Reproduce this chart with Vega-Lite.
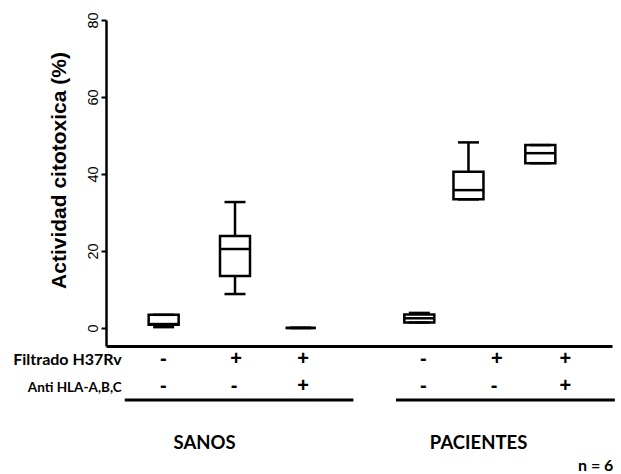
{
  "$schema": "https://vega.github.io/schema/vega-lite/v6.json",
  "width": 506,
  "height": 326,
  "autosize": {"type": "none"},
  "padding": {"left": 106, "top": 20, "right": 9, "bottom": 128},
  "background": "white",
  "config": {"view": {"stroke": null}, "axis": {"grid": false}},
  "datasets": {
    "boxes": [
      {"grupo": "SANOS", "filtrado": "-", "anti": "-", "pos": 0.743, "min": 0.2, "q1": 0.8, "median": 1.0, "q3": 3.4, "max": 3.4},
      {"grupo": "SANOS", "filtrado": "+", "anti": "-", "pos": 1.75, "min": 8.8, "q1": 13.5, "median": 20.5, "q3": 23.9, "max": 32.7},
      {"grupo": "SANOS", "filtrado": "+", "anti": "+", "pos": 2.677, "min": 0, "q1": 0, "median": 0, "q3": 0, "max": 0},
      {"grupo": "PACIENTES", "filtrado": "-", "anti": "-", "pos": 4.351, "min": 1.4, "q1": 1.4, "median": 2.5, "q3": 3.5, "max": 3.9},
      {"grupo": "PACIENTES", "filtrado": "+", "anti": "-", "pos": 5.045, "min": 33.4, "q1": 33.4, "median": 35.8, "q3": 40.6, "max": 48.2},
      {"grupo": "PACIENTES", "filtrado": "+", "anti": "+", "pos": 6.059, "min": 42.8, "q1": 42.8, "median": 45.4, "q3": 47.5, "max": 47.5}
    ],
    "filtradoRow": [
      {"pos": 0.74, "sign": "-"}, {"pos": 1.764, "sign": "+"}, {"pos": 2.711, "sign": "+"},
      {"pos": 4.409, "sign": "-"}, {"pos": 5.444, "sign": "+"}, {"pos": 6.412, "sign": "+"}
    ],
    "antiRow": [
      {"pos": 0.74, "sign": "-"}, {"pos": 1.736, "sign": "-"}, {"pos": 2.711, "sign": "+"},
      {"pos": 4.409, "sign": "-"}, {"pos": 5.405, "sign": "-"}, {"pos": 6.412, "sign": "+"}
    ],
    "groups": [
      {"grupo": "SANOS", "from": 0.194, "to": 3.421, "center": 1.32},
      {"grupo": "PACIENTES", "from": 4.022, "to": 7.111, "center": 5.188}
    ]
  },
  "layer": [
    {
      "data": {"name": "boxes"},
      "mark": {"type": "rule", "color": "black", "strokeWidth": 2.5},
      "encoding": {
        "x": {"field": "pos", "type": "quantitative",
          "scale": {"domain": [0, 7], "nice": false, "zero": false},
          "axis": {"title": null, "labels": false, "ticks": false, "domainWidth": 3, "domainColor": "black"}},
        "y": {"field": "q3", "type": "quantitative",
          "scale": {"domain": [-4.7, 80], "nice": false, "zero": false},
          "axis": {"title": "Actividad citotoxica (%)", "values": [0, 20, 40, 60, 80],
            "titleFont": "Liberation Sans", "titleFontSize": 21, "titleFontWeight": "bold", "titleColor": "black",
            "titleX": -37, "titleY": 150, "titleAngle": 270, "titleBaseline": "bottom",
            "labelAngle": 270, "labelFont": "Liberation Sans", "labelFontSize": 14.5, "labelColor": "black",
            "labelAlign": "center", "labelBaseline": "alphabetic", "labelPadding": 4, "labelFlush": false, "labelOverlap": false,
            "tickSize": 5, "tickWidth": 2, "tickColor": "black", "domainWidth": 2.5, "domainColor": "black"}},
        "y2": {"field": "max"}
      }
    },
    {
      "data": {"name": "boxes"},
      "mark": {"type": "rule", "color": "black", "strokeWidth": 2.5},
      "encoding": {
        "x": {"field": "pos", "type": "quantitative"},
        "y": {"field": "min", "type": "quantitative"},
        "y2": {"field": "q1"}
      }
    },
    {
      "data": {"name": "boxes"},
      "mark": {"type": "bar", "orient": "vertical", "width": 30, "fill": "white", "stroke": "black", "strokeWidth": 2.5},
      "encoding": {
        "x": {"field": "pos", "type": "quantitative"},
        "y": {"field": "q1", "type": "quantitative"},
        "y2": {"field": "q3"}
      }
    },
    {
      "data": {"name": "boxes"},
      "mark": {"type": "tick", "orient": "horizontal", "size": 30, "thickness": 2.5, "color": "black", "opacity": 1},
      "encoding": {
        "x": {"field": "pos", "type": "quantitative"},
        "y": {"field": "median", "type": "quantitative"}
      }
    },
    {
      "data": {"name": "boxes"},
      "mark": {"type": "tick", "orient": "horizontal", "size": 21, "thickness": 2.5, "color": "black", "opacity": 1},
      "encoding": {
        "x": {"field": "pos", "type": "quantitative"},
        "y": {"field": "max", "type": "quantitative"}
      }
    },
    {
      "data": {"name": "boxes"},
      "mark": {"type": "tick", "orient": "horizontal", "size": 21, "thickness": 2.5, "color": "black", "opacity": 1},
      "encoding": {
        "x": {"field": "pos", "type": "quantitative"},
        "y": {"field": "min", "type": "quantitative"}
      }
    },
    {
      "data": {"name": "filtradoRow"},
      "mark": {"type": "text", "font": "Liberation Sans", "fontWeight": "bold", "fontSize": 20, "align": "center", "baseline": "alphabetic", "color": "black"},
      "encoding": {
        "x": {"field": "pos", "type": "quantitative"},
        "y": {"datum": -9.6},
        "text": {"field": "sign"}
      }
    },
    {
      "data": {"name": "antiRow"},
      "mark": {"type": "text", "font": "Liberation Sans", "fontWeight": "bold", "fontSize": 20, "align": "center", "baseline": "alphabetic", "color": "black"},
      "encoding": {
        "x": {"field": "pos", "type": "quantitative"},
        "y": {"datum": -16.6},
        "text": {"field": "sign"}
      }
    },
    {
      "data": {"values": [{"label": "Filtrado H37Rv"}]},
      "mark": {"type": "text", "font": "Lato", "fontWeight": "bold", "fontSize": 16, "align": "right", "baseline": "alphabetic", "color": "black"},
      "encoding": {
        "x": {"datum": 0.152},
        "y": {"datum": -9.6},
        "text": {"field": "label"}
      }
    },
    {
      "data": {"values": [{"label": "Anti HLA-A,B,C"}]},
      "mark": {"type": "text", "font": "Lato", "fontWeight": "bold", "fontSize": 13.5, "align": "right", "baseline": "alphabetic", "color": "black"},
      "encoding": {
        "x": {"datum": 0.152},
        "y": {"datum": -16.6},
        "text": {"field": "label"}
      }
    },
    {
      "data": {"name": "groups"},
      "mark": {"type": "rule", "color": "black", "strokeWidth": 3},
      "encoding": {
        "x": {"field": "from", "type": "quantitative"},
        "x2": {"field": "to"},
        "y": {"datum": -18.7}
      }
    },
    {
      "data": {"name": "groups"},
      "mark": {"type": "text", "font": "Lato", "fontWeight": "bold", "fontSize": 18.5, "align": "center", "baseline": "alphabetic", "color": "black"},
      "encoding": {
        "x": {"field": "center", "type": "quantitative"},
        "y": {"datum": -31.4},
        "text": {"field": "grupo"}
      }
    },
    {
      "data": {"values": [{"label": "n = 6"}]},
      "mark": {"type": "text", "font": "Lato", "fontWeight": "bold", "fontSize": 16, "align": "center", "baseline": "alphabetic", "color": "black"},
      "encoding": {
        "x": {"datum": 6.84},
        "y": {"datum": -37.1},
        "text": {"field": "label"}
      }
    }
  ]
}
